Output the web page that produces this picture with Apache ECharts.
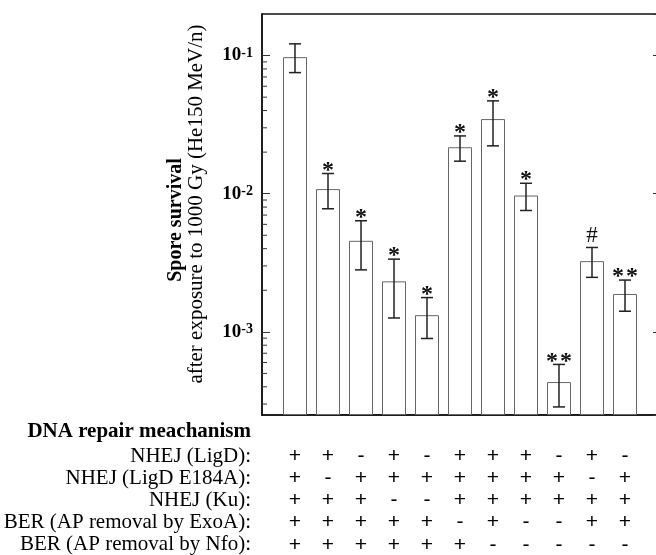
<!DOCTYPE html>
<html>

<head>
	<meta charset="utf-8">
	<title>Spore survival</title>
	<script src="https://cdn.jsdelivr.net/npm/echarts@6/dist/echarts.min.js"></script>
	<style>html,body{margin:0;padding:0;background:#fff;}</style>
</head>

<body>
	<div id="main" style="width:656px;height:555px;"></div>
	<script type="text/javascript">
	var survival = [0.0974, 0.0108, 0.00456, 0.00232, 0.00132, 0.0217, 0.0347, 0.0097, 0.000433, 0.00325, 0.00188];
	var errHigh  = [0.1216, 0.0140, 0.00637, 0.00336, 0.00177, 0.0262, 0.0470, 0.0119, 0.000581, 0.00408, 0.00237];
	var errLow   = [0.0753, 0.00778, 0.00281, 0.00126, 0.000895, 0.0172, 0.0222, 0.00756, 0.000286, 0.00248, 0.00141];
	var marks    = ['', '*', '*', '*', '*', '*', '*', '*', '**', '#', '**'];

	// repair table under the bars
	var rowNames = ['NHEJ (LigD):', 'NHEJ (LigD E184A):', 'NHEJ (Ku):', 'BER (AP removal by ExoA):', 'BER (AP removal by Nfo):'];
	var ligD  = ['+', '+', '-', '+', '-', '+', '+', '+', '-', '+', '-'];
	var ligDE = ['+', '-', '+', '+', '+', '+', '+', '+', '+', '-', '+'];
	var ku    = ['+', '+', '+', '-', '-', '+', '+', '+', '+', '+', '+'];
	var exoA  = ['+', '+', '+', '+', '+', '-', '+', '-', '-', '+', '+'];
	var nfo   = ['+', '+', '+', '+', '+', '+', '-', '-', '-', '-', '-'];
	var table = [ligD, ligDE, ku, exoA, nfo];

	// axis range and the small ticks inside each decade
	var yMin = 0.00025, yMax = 0.2;
	var minorTicks = [0.0003, 0.0004, 0.0005, 0.0006, 0.0007, 0.0008, 0.0009,
		0.002, 0.003, 0.004, 0.005, 0.006, 0.007, 0.008, 0.009,
		0.02, 0.03, 0.04, 0.05, 0.06, 0.07, 0.08, 0.09];

	var serif = '"Liberation Serif", "Times New Roman", serif';
	var myChart = echarts.init(document.getElementById('main'));

	var barData = survival.map(function(v, i) { return [i + 1, v]; });
	var errData = survival.map(function(v, i) { return [i + 1, errLow[i], errHigh[i]]; });
	var minorData = minorTicks.map(function(v) { return [0, v]; });

	function txt(text, x, y, font, align, rot) {
		return {
			type: 'text', x: x, y: y, rotation: rot || 0, silent: true,
			style: { text: text, font: font, fill: '#000', align: align, textAlign: align, verticalAlign: 'middle', textVerticalAlign: 'middle' }
		};
	}

	var graphic = [
		txt('Spore survival', 176, 220, 'bold 20px ' + serif, 'center', Math.PI / 2),
		txt('after exposure to 1000 Gy (He150 MeV/n)', 196, 204, '21px ' + serif, 'center', Math.PI / 2),
		txt('DNA repair meachanism', 251, 432, 'bold 21px ' + serif, 'right')
	];
	rowNames.forEach(function(name, r) {
		graphic.push(txt(name, 251, 456 + r * 22.2, '21px ' + serif, 'right'));
	});

	var yAxisBase = {
		type: 'log', logBase: 10, min: yMin, max: yMax, startValue: yMin,
		axisLine: { show: true, lineStyle: { color: '#111', width: 1.5 } },
		axisTick: { show: true, inside: true, length: 8, lineStyle: { color: '#333' } },
		splitLine: { show: false }
	};

	option = {
		animation: false,
		grid: {
			left: 262, top: 14, width: 396, height: 401,
			containLabel: false, outerBoundsMode: 'none',
			show: true, borderColor: '#111', borderWidth: 1.5
		},
		xAxis: {
			type: 'value', min: 0, max: 12, interval: 1,
			axisLine: { show: true, onZero: false, lineStyle: { color: '#111', width: 1.5 } },
			axisTick: { show: false },
			splitLine: { show: false },
			axisLabel: {
				margin: 30, lineHeight: 22.2, color: '#000',
				fontFamily: '"Liberation Sans", Arial, sans-serif', fontSize: 21,
				formatter: function(v) {
					var i = Math.round(v) - 1;
					if (i < 0 || i >= ligD.length) return '';
					return table.map(function(row) { return row[i]; }).join('\n');
				}
			}
		},
		yAxis: [
			Object.assign({}, yAxisBase, {
				position: 'left',
				axisLabel: {
					margin: 9, showMinLabel: false, showMaxLabel: false,
					formatter: function(v) {
						return '{b|10}{s|' + Math.round(Math.log10(v)) + '}';
					},
					rich: {
						b: { fontFamily: serif, fontWeight: 'bold', fontSize: 19, color: '#000' },
						s: { fontFamily: serif, fontWeight: 'bold', fontSize: 14, color: '#000', verticalAlign: 'top' }
					}
				}
			}),
			Object.assign({}, yAxisBase, {
				position: 'right',
				axisLabel: { show: false },
				axisTick: { show: true, inside: true, length: 5, lineStyle: { color: '#333' } }
			})
		],
		series: [{
			type: 'bar',
			barWidth: 24,
			data: barData,
			itemStyle: { color: '#fff', borderColor: '#666', borderWidth: 1 }
		}, {
			type: 'custom',
			data: errData,
			encode: { x: 0, y: [1, 2] },
			z: 5,
			renderItem: function(params, api) {
				var x = api.value(0);
				var lo = api.coord([x, api.value(1)]);
				var hi = api.coord([x, api.value(2)]);
				var st = { stroke: '#222', lineWidth: 1.5 };
				var kids = [
					{ type: 'line', shape: { x1: hi[0], y1: hi[1], x2: lo[0], y2: lo[1] }, style: st },
					{ type: 'line', shape: { x1: hi[0] - 6, y1: hi[1], x2: hi[0] + 6, y2: hi[1] }, style: st },
					{ type: 'line', shape: { x1: lo[0] - 6, y1: lo[1], x2: lo[0] + 6, y2: lo[1] }, style: st }
				];
				var m = marks[params.dataIndex];
				for (var k = 0; k < m.length; k++) {
					kids.push({
						type: 'text',
						x: hi[0] + (k - (m.length - 1) / 2) * 14,
						y: hi[1] + (m[k] === '*' ? 9 : 0),
						style: { text: m[k], font: (m[k] === '*' ? 'bold 24px ' : '23px ') + serif, fill: '#111',
							align: 'center', textAlign: 'center', verticalAlign: 'bottom', textVerticalAlign: 'bottom' }
					});
				}
				return { type: 'group', children: kids };
			}
		}, {
			// minor log ticks on the left axis
			type: 'custom',
			data: minorData,
			encode: { x: 0, y: 1 },
			z: 6,
			renderItem: function(params, api) {
				var y = api.coord([0, api.value(1)])[1];
				var cs = params.coordSys;
				return {
					type: 'line',
					shape: { x1: cs.x, y1: y, x2: cs.x + 5, y2: y },
					style: { stroke: '#333', lineWidth: 1 }
				};
			}
		}],
		graphic: graphic
	};

	myChart.setOption(option);
	</script>
</body>

</html>
